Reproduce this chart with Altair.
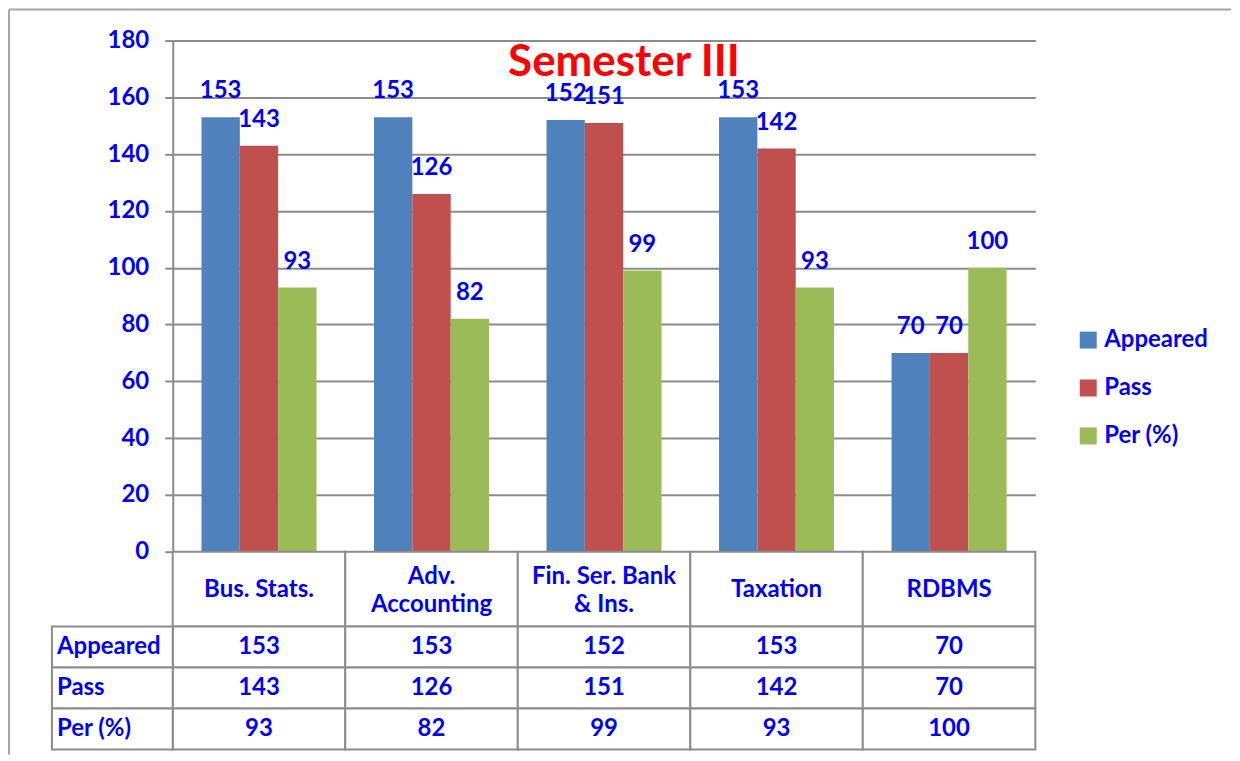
import altair as alt
import pandas as pd

categories = ["Bus. Stats.", "Adv. Accounting", "Fin. Ser. Bank & Ins.", "Taxation", "RDBMS"]
header_labels = ["Bus. Stats.", "Adv.\nAccounting", "Fin. Ser. Bank\n& Ins.", "Taxation", "RDBMS"]
series = ["Appeared", "Pass", "Per (%)"]
appeared = [153, 153, 152, 153, 70]
passed = [143, 126, 151, 142, 70]
percent = [93, 82, 99, 93, 100]
y_ticks = [0, 20, 40, 60, 80, 100, 120, 140, 160, 180]
colors = ["#4F81BD", "#C0504D", "#9BBB59"]

rows = []
for i, c in enumerate(categories):
    for s, vals in zip(series, [appeared, passed, percent]):
        rows.append({"cat": c, "header": header_labels[i], "series": s, "value": vals[i]})
df = pd.DataFrame(rows)
hdr = pd.DataFrame({"cat": categories, "header": header_labels})
one = pd.DataFrame({"t": ["Semester III"]})

FONT = "Lato"
FS = 24
BLUE = "#0000FF"
GRAY = "#8C8C8C"
BAR_H = 512
HDR_B = 587
TBL_B = 710

x_enc = alt.X("cat:N", sort=categories,
              scale=alt.Scale(domain=categories, paddingInner=0, paddingOuter=0), axis=None)
xoff = alt.XOffset("series:N", sort=series,
                   scale=alt.Scale(domain=series, paddingInner=0, paddingOuter=0.75))
yscale = alt.Scale(domain=[0, 180], range=[BAR_H, 0], nice=False, zero=True)
row_scale = alt.Scale(domain=series, range=[HDR_B, TBL_B], paddingInner=0, paddingOuter=0)

bars = alt.Chart(df).mark_bar().encode(
    x=x_enc, xOffset=xoff,
    y=alt.Y("value:Q", scale=yscale,
            axis=alt.Axis(values=y_ticks, title=None, grid=True, gridColor=GRAY, gridWidth=2,
                          domainColor=GRAY, domainWidth=2, tickColor=GRAY, tickWidth=2, tickSize=8,
                          labelFont=FONT, labelFontSize=FS, labelFontWeight="bold", labelColor=BLUE,
                          labelPadding=16, labelBaseline="middle")),
    color=alt.Color("series:N", sort=series, scale=alt.Scale(domain=series, range=colors),
                    legend=alt.Legend(orient="none", legendX=905, legendY=288, title=None,
                                      symbolType="square", symbolSize=289, symbolStrokeWidth=0,
                                      labelFont=FONT, labelFontSize=FS, labelFontWeight="bold",
                                      labelColor=BLUE, rowPadding=24, labelOffset=4)),
)

labels = alt.Chart(df).mark_text(font=FONT, fontSize=FS, fontWeight="bold", color=BLUE,
                                 baseline="alphabetic", dy=-19).encode(
    x=x_enc, xOffset=xoff,
    y=alt.Y("value:Q", scale=yscale, axis=None),
    text="value:Q",
)

cells = alt.Chart(df).mark_rect(fill="white", stroke=GRAY, strokeWidth=2).encode(
    x=x_enc, y=alt.Y("series:N", sort=series, scale=row_scale, axis=None))
cell_text = alt.Chart(df).mark_text(font=FONT, fontSize=FS, fontWeight="bold", color=BLUE,
                                    baseline="middle").encode(
    x=x_enc, y=alt.Y("series:N", sort=series, scale=row_scale, axis=None), text="value:Q")

hdr_cells = alt.Chart(hdr).mark_rect(fill="white", stroke=GRAY, strokeWidth=2).encode(
    x=x_enc, y=alt.value(BAR_H), y2=alt.value(HDR_B))
hdr_text1 = alt.Chart(hdr).transform_filter(
    "indexof(datum.header, '\\n') < 0"
).mark_text(font=FONT, fontSize=FS, fontWeight="bold", color=BLUE, baseline="middle").encode(
    x=x_enc, y=alt.value((BAR_H + HDR_B) / 2 + 1), text="header:N")
hdr_text2 = alt.Chart(hdr).transform_filter(
    "indexof(datum.header, '\\n') >= 0"
).mark_text(font=FONT, fontSize=FS, fontWeight="bold", color=BLUE, baseline="middle",
            lineBreak="\n", lineHeight=28, dy=-13).encode(
    x=x_enc, y=alt.value((BAR_H + HDR_B) / 2 + 1), text="header:N")

row_df = pd.DataFrame({"series": series})
row_cells = alt.Chart(row_df).mark_rect(fill="white", stroke=GRAY, strokeWidth=2).encode(
    x=alt.value(-121), x2=alt.value(0),
    y=alt.Y("series:N", sort=series, scale=row_scale, axis=None))
row_text = alt.Chart(row_df).mark_text(font=FONT, fontSize=FS, fontWeight="bold", color=BLUE,
                                       baseline="middle", align="left").encode(
    x=alt.value(-116), y=alt.Y("series:N", sort=series, scale=row_scale, axis=None),
    text="series:N")

border_top = alt.Chart(one).mark_rule(color="#A6A6A6", strokeWidth=2).encode(
    x=alt.value(-164), x2=alt.value(1060), y=alt.value(-31))
border_left = alt.Chart(one).mark_rule(color="#A6A6A6", strokeWidth=2).encode(
    x=alt.value(-164), y=alt.value(-31), y2=alt.value(715))

title = alt.Chart(one).mark_text(font=FONT, fontSize=44, fontWeight="bold", color="#FF0000",
                                 baseline="middle", align="center").encode(
    x=alt.value(452), y=alt.value(22), text="t:N")

chart = alt.layer(
    border_top, border_left, bars, labels, hdr_cells, hdr_text1, hdr_text2,
    cells, cell_text, row_cells, row_text, title,
).resolve_scale(y="independent").properties(
    width=864, height=TBL_B, padding=0
).configure_view(strokeWidth=0)

chart.save("out.html", embed_options={"renderer": "svg", "actions": False})
